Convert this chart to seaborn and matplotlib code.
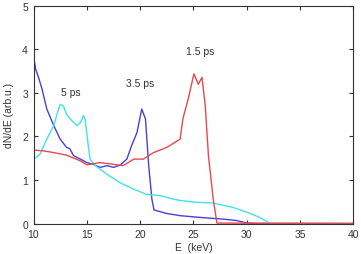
import numpy as np
import pandas as pd
import seaborn as sns
import matplotlib
matplotlib.use("Agg")
import matplotlib.pyplot as plt

# 3.5 ps (blue)
e_35 = [10.0, 10.2, 10.47, 10.8, 11.25, 11.9, 12.5, 13.1, 13.4, 13.75, 14.4, 15.0, 15.6,
        16.25, 16.9, 17.5, 18.1, 18.75, 19.2, 19.7, 20.15, 20.5, 20.8, 21.1, 21.3, 21.9,
        22.5, 23.75, 25.6, 27.8, 29.0, 30.0, 31.0, 40.0]
v_35 = [3.85, 3.55, 3.36, 3.09, 2.63, 2.25, 1.94, 1.75, 1.72, 1.56, 1.48, 1.40, 1.36,
        1.29, 1.33, 1.29, 1.34, 1.48, 1.79, 2.09, 2.63, 2.40, 1.33, 0.56, 0.31, 0.27,
        0.23, 0.18, 0.14, 0.10, 0.07, 0.01, 0.0, 0.0]

# 5 ps (cyan)
e_5 = [10.0, 10.6, 11.25, 11.9, 12.2, 12.5, 12.8, 13.1, 13.6, 14.1, 14.4, 14.7, 14.84,
       15.06, 15.3, 15.8, 16.9, 18.1, 19.4, 20.6, 21.9, 23.1, 23.75, 25.1, 26.85, 28.7,
       30.0, 31.2, 32.2, 40.0]
v_5 = [1.48, 1.59, 1.94, 2.25, 2.51, 2.74, 2.70, 2.51, 2.36, 2.25, 2.32, 2.48, 2.40,
       1.94, 1.48, 1.33, 1.13, 0.94, 0.79, 0.67, 0.64, 0.56, 0.53, 0.49, 0.47, 0.37,
       0.26, 0.14, 0.0, 0.0]

# 1.5 ps (red)
e_15 = [10.0, 10.9, 11.9, 13.1, 14.4, 15.0, 16.25, 17.5, 18.4, 19.4, 20.3, 21.25, 22.5,
        23.75, 24.0, 24.5, 25.04, 25.45, 25.8, 26.1, 26.4, 26.85, 27.2, 40.0]
v_15 = [1.69, 1.67, 1.63, 1.57, 1.44, 1.35, 1.40, 1.36, 1.33, 1.48, 1.48, 1.63, 1.75,
        1.94, 2.40, 2.86, 3.44, 3.20, 3.36, 2.71, 1.56, 0.56, 0.01, 0.0]

labels = ["5 ps", "3.5 ps", "1.5 ps"]
label_pos = [(13.5, 3.02), (20.0, 3.23), (25.6, 3.97)]

sns.set_theme(style="ticks")
plt.rcParams['font.family'] = ['Liberation Sans', 'DejaVu Sans']

fig = plt.figure(figsize=(3.61, 2.55), dpi=100)
ax = fig.add_axes([0.0928, 0.1196, 0.8864, 0.853])

df = pd.concat([
    pd.DataFrame({"E": e_35, "v": v_35, "s": "3.5 ps"}),
    pd.DataFrame({"E": e_5, "v": v_5, "s": "5 ps"}),
    pd.DataFrame({"E": e_15, "v": v_15, "s": "1.5 ps"}),
])
palette = {"3.5 ps": "#4a3fd6", "5 ps": "#3fe3e8", "1.5 ps": "#e8484c"}
sns.lineplot(data=df, x="E", y="v", hue="s", palette=palette, ax=ax,
             legend=False, linewidth=1.0, sort=False, estimator=None)

for t, (x, y) in zip(labels, label_pos):
    ax.text(x, y, t, ha="center", va="center", fontsize=7.5, color="#333333")

ax.set_xlim(10, 40)
ax.set_ylim(0, 5)
ax.set_xticks([10, 15, 20, 25, 30, 35, 40])
ax.set_yticks([0, 1, 2, 3, 4, 5])
ax.tick_params(direction="in", top=True, right=True, labelsize=7.5, length=3,
               colors="#333333", width=0.8, pad=4)
for sp in ax.spines.values():
    sp.set_color("#333333")
    sp.set_linewidth(0.8)
ax.set_xlabel("E  (keV)", fontsize=7.5, color="#333333", labelpad=2)
ax.set_ylabel("dN/dE (arb.u.)", fontsize=7.5, color="#333333", labelpad=6)

fig.savefig("out.png", dpi=100)
